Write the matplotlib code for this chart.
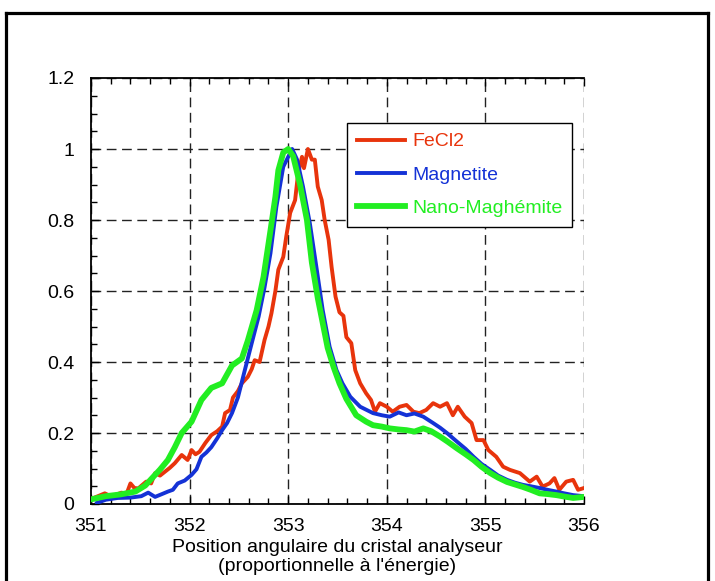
import numpy as np
import matplotlib
matplotlib.use('Agg')
import matplotlib.pyplot as plt
from matplotlib.lines import Line2D
from matplotlib.ticker import MultipleLocator

plt.rcParams['font.family'] = ['Liberation Sans', 'DejaVu Sans']
plt.rcParams['font.size'] = 14

# --- Data ---
green_x = [351.00, 351.15, 351.30, 351.45, 351.55, 351.62, 351.70, 351.78, 351.85, 351.92,
           352.02, 352.12, 352.22, 352.33, 352.43, 352.53, 352.59, 352.68, 352.75, 352.82,
           352.87, 352.90, 352.95, 353.00, 353.05, 353.12, 353.19, 353.24, 353.30, 353.35,
           353.40, 353.46, 353.52, 353.59, 353.69, 353.79, 353.86, 353.95, 354.03, 354.12,
           354.20, 354.28, 354.37, 354.45, 354.54, 354.62, 354.71, 354.80, 354.88, 354.96,
           355.05, 355.13, 355.22, 355.30, 355.38, 355.46, 355.55, 355.63, 355.72, 355.80,
           355.89, 356.00]
green_y = [0.013, 0.022, 0.027, 0.035, 0.052, 0.073, 0.097, 0.124, 0.160, 0.200,
           0.232, 0.293, 0.327, 0.340, 0.390, 0.410, 0.460, 0.546, 0.640, 0.770,
           0.865, 0.940, 0.990, 1.000, 0.980, 0.900, 0.800, 0.680, 0.580, 0.510,
           0.440, 0.386, 0.340, 0.296, 0.250, 0.232, 0.222, 0.218, 0.213, 0.210,
           0.208, 0.204, 0.213, 0.205, 0.190, 0.175, 0.157, 0.140, 0.124, 0.105,
           0.087, 0.074, 0.062, 0.055, 0.048, 0.040, 0.030, 0.028, 0.025, 0.021,
           0.017, 0.020]

blue_x = [351.06, 351.15, 351.27, 351.40, 351.51, 351.58, 351.65, 351.72, 351.78, 351.83,
          351.88, 351.95, 352.02, 352.07, 352.12, 352.17, 352.22, 352.28, 352.33, 352.38,
          352.43, 352.49, 352.56, 352.63, 352.70, 352.76, 352.82, 352.88, 352.95, 353.04,
          353.09, 353.15, 353.22, 353.29, 353.35, 353.42, 353.49, 353.55, 353.63, 353.73,
          353.86, 353.95, 354.03, 354.12, 354.20, 354.28, 354.37, 354.47, 354.54, 354.61,
          354.71, 354.80, 354.88, 354.96, 355.05, 355.13, 355.22, 355.30, 355.38, 355.46,
          355.55, 355.63, 355.72, 355.80, 355.89, 356.00]
blue_y = [0.003, 0.012, 0.017, 0.018, 0.022, 0.032, 0.020, 0.028, 0.035, 0.040,
          0.058, 0.066, 0.082, 0.098, 0.133, 0.145, 0.160, 0.185, 0.208, 0.228,
          0.256, 0.300, 0.377, 0.453, 0.528, 0.610, 0.706, 0.837, 0.950, 1.000,
          0.970, 0.894, 0.790, 0.660, 0.546, 0.443, 0.377, 0.340, 0.302, 0.274,
          0.256, 0.250, 0.246, 0.258, 0.250, 0.255, 0.246, 0.228, 0.215, 0.200,
          0.176, 0.155, 0.133, 0.113, 0.096, 0.080, 0.068, 0.060, 0.054, 0.050,
          0.045, 0.040, 0.035, 0.030, 0.025, 0.022]

red_x = [351.00, 351.07, 351.14, 351.20, 351.24, 351.31, 351.36, 351.40, 351.44, 351.48,
         351.56, 351.61, 351.65, 351.70, 351.75, 351.80, 351.85, 351.92, 351.98, 352.02,
         352.06, 352.10, 352.16, 352.22, 352.28, 352.33, 352.36, 352.41, 352.44, 352.49,
         352.53, 352.59, 352.63, 352.66, 352.71, 352.76, 352.80, 352.83, 352.87, 352.90,
         352.95, 352.98, 353.02, 353.07, 353.10, 353.14, 353.16, 353.20, 353.24, 353.27,
         353.30, 353.34, 353.37, 353.41, 353.44, 353.48, 353.52, 353.56, 353.59, 353.64,
         353.68, 353.73, 353.79, 353.84, 353.88, 353.93, 354.00, 354.06, 354.13, 354.20,
         354.27, 354.33, 354.40, 354.47, 354.54, 354.61, 354.67, 354.72, 354.79, 354.86,
         354.91, 354.98, 355.03, 355.11, 355.18, 355.25, 355.35, 355.40, 355.45, 355.52,
         355.58, 355.65, 355.70, 355.75, 355.82, 355.89, 355.94, 356.00]
red_y = [0.014, 0.022, 0.030, 0.022, 0.025, 0.032, 0.028, 0.058, 0.045, 0.044,
         0.063, 0.058, 0.087, 0.080, 0.091, 0.102, 0.115, 0.138, 0.124, 0.152,
         0.140, 0.147, 0.172, 0.194, 0.205, 0.218, 0.256, 0.265, 0.300, 0.318,
         0.340, 0.358, 0.380, 0.405, 0.400, 0.462, 0.500, 0.537, 0.600, 0.660,
         0.696, 0.753, 0.820, 0.856, 0.930, 0.978, 0.946, 1.000, 0.970, 0.970,
         0.894, 0.856, 0.800, 0.744, 0.668, 0.584, 0.540, 0.530, 0.470, 0.453,
         0.377, 0.340, 0.312, 0.293, 0.260, 0.284, 0.274, 0.260, 0.274, 0.279,
         0.260, 0.256, 0.265, 0.284, 0.274, 0.284, 0.250, 0.274, 0.246, 0.228,
         0.180, 0.180, 0.152, 0.133, 0.105, 0.096, 0.087, 0.075, 0.063, 0.077,
         0.049, 0.058, 0.073, 0.040, 0.063, 0.068, 0.040, 0.045]

labels = ['FeCl2', 'Magnetite', 'Nano-Maghémite']
colors = ['#e8340c', '#1432d6', '#22ee22']

fig = plt.figure(figsize=(7.15, 5.81), dpi=100)
ax = fig.add_axes([91 / 715, 1 - 504 / 581, 493 / 715, 426 / 581])

ax.plot(red_x, red_y, color=colors[0], lw=2.8, label=labels[0], zorder=3)
ax.plot(blue_x, blue_y, color=colors[1], lw=2.8, label=labels[1], zorder=4)
ax.plot(green_x, green_y, color=colors[2], lw=4.2, label=labels[2], zorder=5)

ax.set_xlim(351, 356)
ax.set_ylim(0, 1.2)
ax.xaxis.set_major_locator(MultipleLocator(1))
ax.xaxis.set_minor_locator(MultipleLocator(0.2))
ax.yaxis.set_minor_locator(MultipleLocator(0.05))
ax.set_yticks(np.arange(0, 1.21, 0.2))
ax.set_yticklabels(['0', '0.2', '0.4', '0.6', '0.8', '1', '1.2'])

ax.tick_params(which='both', direction='in', top=True, right=False, width=1, colors='black')
ax.tick_params(which='major', length=6)
ax.tick_params(which='minor', length=4)
ax.tick_params(axis='x', pad=10, labelsize=14)
ax.tick_params(axis='y', pad=12, labelsize=14)

ax.grid(which='major', color='#222222', linestyle=(0, (7, 4)), linewidth=1.0, zorder=1)
ax.set_axisbelow(True)
ax.spines['right'].set_visible(False)
for s in ['left', 'bottom', 'top']:
    ax.spines[s].set_linewidth(1.3)

ax.set_xlabel("Position angulaire du cristal analyseur\n(proportionnelle à l'énergie)",
              fontsize=14, labelpad=3, linespacing=1.12)

leg = ax.legend(loc='upper left', bbox_to_anchor=(0.519, 0.894), borderaxespad=0,
                fancybox=False, framealpha=1, edgecolor='black', fontsize=14,
                handlelength=2.5, handletextpad=0.35, labelspacing=0.8,
                borderpad=0.5)
leg.get_frame().set_linewidth(1.0)
leg.set_zorder(10)
for txt, c in zip(leg.get_texts(), colors):
    txt.set_color(c)

# outer frame
fig.add_artist(Line2D([5.5 / 715, 5.5 / 715], [0, 1 - 12.5 / 581], color='black', lw=2.3))
fig.add_artist(Line2D([5.5 / 715, 708 / 715], [1 - 12.5 / 581, 1 - 12.5 / 581], color='black', lw=2.3))
fig.add_artist(Line2D([708 / 715, 708 / 715], [0, 1 - 12.5 / 581], color='black', lw=2.3))

fig.savefig('out.png', dpi=100)
